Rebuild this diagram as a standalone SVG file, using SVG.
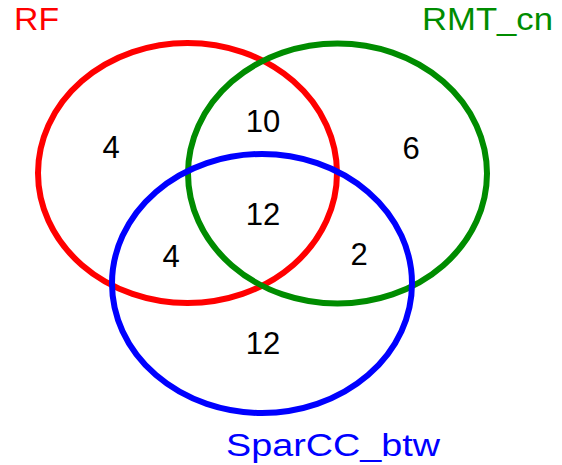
<svg xmlns="http://www.w3.org/2000/svg" width="562" height="465" viewBox="0 0 562 465">
<style>
.set{fill:none;stroke-width:6}
.num{font-family:"Liberation Sans",Arial,sans-serif;font-size:31px;fill:#000;text-anchor:middle}
.lbl{font-family:"Liberation Sans",Arial,sans-serif;font-size:31px}
</style>
<rect width="562" height="465" fill="#fff"/>
<g id="sets">
<g id="RF"><ellipse class="set" cx="187.5" cy="173" rx="149.5" ry="130" stroke="#ff0000"/></g>
<g id="RMT_cn"><ellipse class="set" cx="337.5" cy="173.5" rx="149.5" ry="130" stroke="#008c00"/></g>
<g id="SparCC_btw"><ellipse class="set" cx="262" cy="283.5" rx="150" ry="129.5" stroke="#0000ff"/></g>
</g>
<g id="labels">
<text class="lbl" x="14" y="30" fill="#ff0000" textLength="45" lengthAdjust="spacingAndGlyphs">RF</text>
<text class="lbl" x="422" y="30" fill="#008c00" textLength="131" lengthAdjust="spacingAndGlyphs">RMT_cn</text>
<text class="lbl" x="226" y="456" fill="#0000ff" textLength="214" lengthAdjust="spacingAndGlyphs">SparCC_btw</text>
</g>
<g id="counts">
<text class="num" x="111" y="158">4</text>
<text class="num" x="263" y="132">10</text>
<text class="num" x="411" y="159">6</text>
<text class="num" x="263" y="225">12</text>
<text class="num" x="171" y="267">4</text>
<text class="num" x="359" y="265">2</text>
<text class="num" x="263" y="354">12</text>
</g>
</svg>
